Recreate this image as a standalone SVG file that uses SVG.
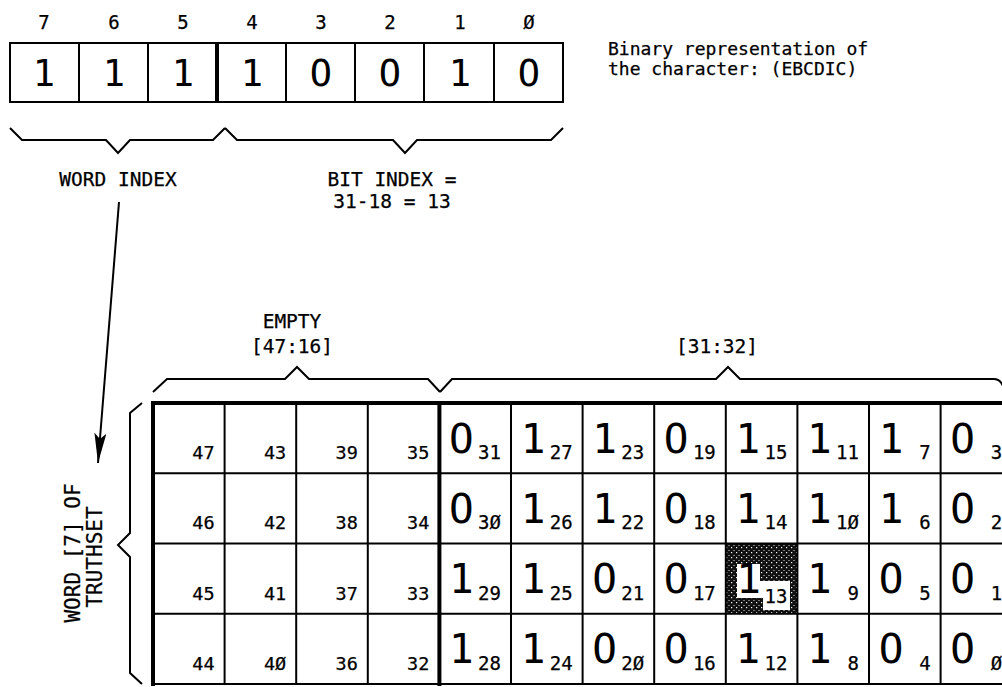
<svg xmlns="http://www.w3.org/2000/svg" width="1002" height="687" viewBox="0 0 1002 687">
<style>
text{font-family:"DejaVu Sans Mono","Liberation Mono",monospace;fill:#000;stroke:#000;stroke-width:0.25}
.lbl{font-size:19px;text-anchor:middle}
.bit{font-size:37px;text-anchor:middle;stroke-width:0}
.desc{font-size:18px}
.cap{font-size:19.5px;text-anchor:middle}
.big{font-size:41px;text-anchor:middle;stroke-width:0}
.sub{font-size:19px;text-anchor:end}
.num{font-size:18.5px;text-anchor:end}
.vt{font-size:21px;text-anchor:middle}
.thin{fill:none;stroke:#000;stroke-width:2}
.thick{fill:none;stroke:#000;stroke-width:4}
.brace{fill:none;stroke:#000;stroke-width:2;stroke-linejoin:miter}
</style>
<defs>
<pattern id="stip" width="5" height="5" patternUnits="userSpaceOnUse">
<rect width="5" height="5" fill="#111"/>
<rect x="1" y="2" width="1.2" height="1.2" fill="#fff"/>
<rect x="3.5" y="0" width="1" height="1" fill="#ddd"/>
</pattern>
<marker id="ah" viewBox="0 0 30 12" refX="30" refY="6" markerWidth="30" markerHeight="12" markerUnits="userSpaceOnUse" orient="auto">
<path d="M0,0 L30,6 L0,12 L6,6 z" fill="#000"/>
</marker>
</defs>
<rect width="1002" height="687" fill="#fff"/>

<g id="bit-row">
<g class="lbl-row">
<text class="lbl" x="44" y="29">7</text>
<text class="lbl" x="114" y="29">6</text>
<text class="lbl" x="183" y="29">5</text>
<text class="lbl" x="252" y="29">4</text>
<text class="lbl" x="321" y="29">3</text>
<text class="lbl" x="390" y="29">2</text>
<text class="lbl" x="460" y="29">1</text>
<text class="lbl" x="529" y="29">Ø</text>
</g>
<rect class="thin" x="10" y="43" width="553" height="59"/>
<path class="thin" d="M79,43V102M148,43V102M286,43V102M355,43V102M424,43V102M494,43V102"/>
<path class="thick" d="M217,43V102"/>
<text class="bit" x="44" y="86">1</text>
<text class="bit" x="114" y="86">1</text>
<text class="bit" x="183" y="86">1</text>
<text class="bit" x="252" y="86">1</text>
<text class="bit" x="321" y="86">O</text>
<text class="bit" x="390" y="86">O</text>
<text class="bit" x="460" y="86">1</text>
<text class="bit" x="529" y="86">O</text>
</g>

<g id="description">
<text class="desc" x="608" y="55">Binary representation of</text>
<text class="desc" x="608" y="75">the character: (EBCDIC)</text>
</g>

<g id="word-index">
<path class="brace" d="M10,128 L22,140 H106 L118,153 L130,140 H213 L225,128"/>
<text class="cap" x="118" y="186">WORD INDEX</text>
</g>

<g id="bit-index">
<path class="brace" d="M225,128 L237,140 H393 L405,153 L417,140 H551 L563,128"/>
<text class="cap" x="392" y="186">BIT INDEX =</text>
<text class="cap" x="392" y="208">31-18 = 13</text>
</g>

<g id="connectors">
<path d="M119,202 L98,463" stroke="#000" stroke-width="2" fill="none" marker-end="url(#ah)"/>
</g>

<g id="empty-label">
<path class="brace" d="M153,392 L167,379 H285 L297,367 L309,379 H428 L440,392"/>
<text class="cap" x="292" y="328">EMPTY</text>
<text class="cap" x="292" y="353">[47:16]</text>
</g>

<g id="range-label">
<path class="brace" d="M440,392 L452,379 H716 L728,367 L740,379 H994 Q1000,379 1003,386"/>
<text class="cap" x="717" y="353">[31:32]</text>
</g>

<g id="word7-label">
<path class="brace" d="M142,403 L130,413 V533 L118,545 L130,557 V673 L142,684"/>
<text class="vt" transform="translate(80,553) rotate(-90)">WORD [7] OF</text>
<text class="vt" transform="translate(102,557) rotate(-90)">TRUTHSET</text>
</g>

<g id="truthset-grid">
<rect x="725.8" y="543.5" width="71.6" height="70.25" fill="url(#stip)"/>
<path d="M737,564 H760 V581 H790 V610 H763 V598 H737 Z" fill="#fff"/>
<path class="thin" d="M153,473.25H1002M153,543.5H1002M153,613.75H1002M153,684H1002"/>
<path class="thin" d="M224.6,403V684M296.2,403V684M367.8,403V684M511,403V684M582.6,403V684M654.2,403V684M725.8,403V684M797.4,403V684M869,403V684M940.6,403V684"/>
<path class="thick" d="M1002,403H153V686M439.4,403V686"/>

<g id="empty-cells">
<text class="num" x="214.6" y="459">47</text>
<text class="num" x="286.2" y="459">43</text>
<text class="num" x="357.8" y="459">39</text>
<text class="num" x="429.4" y="459">35</text>
<text class="num" x="214.6" y="529">46</text>
<text class="num" x="286.2" y="529">42</text>
<text class="num" x="357.8" y="529">38</text>
<text class="num" x="429.4" y="529">34</text>
<text class="num" x="214.6" y="600">45</text>
<text class="num" x="286.2" y="600">41</text>
<text class="num" x="357.8" y="600">37</text>
<text class="num" x="429.4" y="600">33</text>
<text class="num" x="214.6" y="670">44</text>
<text class="num" x="286.2" y="670">4Ø</text>
<text class="num" x="357.8" y="670">36</text>
<text class="num" x="429.4" y="670">32</text>
</g>

<g id="row-0">
<text class="big" x="461.4" y="453">O</text><text class="sub" x="501" y="459">31</text>
<text class="big" x="533" y="453">1</text><text class="sub" x="572.6" y="459">27</text>
<text class="big" x="604.6" y="453">1</text><text class="sub" x="644.2" y="459">23</text>
<text class="big" x="676.2" y="453">O</text><text class="sub" x="715.8" y="459">19</text>
<text class="big" x="747.8" y="453">1</text><text class="sub" x="787.4" y="459">15</text>
<text class="big" x="819.4" y="453">1</text><text class="sub" x="859" y="459">11</text>
<text class="big" x="891" y="453">1</text><text class="sub" x="930.6" y="459">7</text>
<text class="big" x="962.6" y="453">O</text><text class="sub" x="1002.2" y="459">3</text>
</g>
<g id="row-1">
<text class="big" x="461.4" y="523">O</text><text class="sub" x="501" y="529">3Ø</text>
<text class="big" x="533" y="523">1</text><text class="sub" x="572.6" y="529">26</text>
<text class="big" x="604.6" y="523">1</text><text class="sub" x="644.2" y="529">22</text>
<text class="big" x="676.2" y="523">O</text><text class="sub" x="715.8" y="529">18</text>
<text class="big" x="747.8" y="523">1</text><text class="sub" x="787.4" y="529">14</text>
<text class="big" x="819.4" y="523">1</text><text class="sub" x="859" y="529">1Ø</text>
<text class="big" x="891" y="523">1</text><text class="sub" x="930.6" y="529">6</text>
<text class="big" x="962.6" y="523">O</text><text class="sub" x="1002.2" y="529">2</text>
</g>
<g id="row-2">
<text class="big" x="461.4" y="593">1</text><text class="sub" x="501" y="600">29</text>
<text class="big" x="533" y="593">1</text><text class="sub" x="572.6" y="600">25</text>
<text class="big" x="604.6" y="593">O</text><text class="sub" x="644.2" y="600">21</text>
<text class="big" x="676.2" y="593">O</text><text class="sub" x="715.8" y="600">17</text>
<text class="big" x="748.5" y="593">1</text><text class="sub" x="787.4" y="603">13</text>
<text class="big" x="819.4" y="593">1</text><text class="sub" x="859" y="600">9</text>
<text class="big" x="891" y="593">O</text><text class="sub" x="930.6" y="600">5</text>
<text class="big" x="962.6" y="593">O</text><text class="sub" x="1002.2" y="600">1</text>
</g>
<g id="row-3">
<text class="big" x="461.4" y="663">1</text><text class="sub" x="501" y="670">28</text>
<text class="big" x="533" y="663">1</text><text class="sub" x="572.6" y="670">24</text>
<text class="big" x="604.6" y="663">O</text><text class="sub" x="644.2" y="670">2Ø</text>
<text class="big" x="676.2" y="663">O</text><text class="sub" x="715.8" y="670">16</text>
<text class="big" x="747.8" y="663">1</text><text class="sub" x="787.4" y="670">12</text>
<text class="big" x="819.4" y="663">1</text><text class="sub" x="859" y="670">8</text>
<text class="big" x="891" y="663">O</text><text class="sub" x="930.6" y="670">4</text>
<text class="big" x="962.6" y="663">O</text><text class="sub" x="1002.2" y="670">Ø</text>
</g>
</g>
</svg>
